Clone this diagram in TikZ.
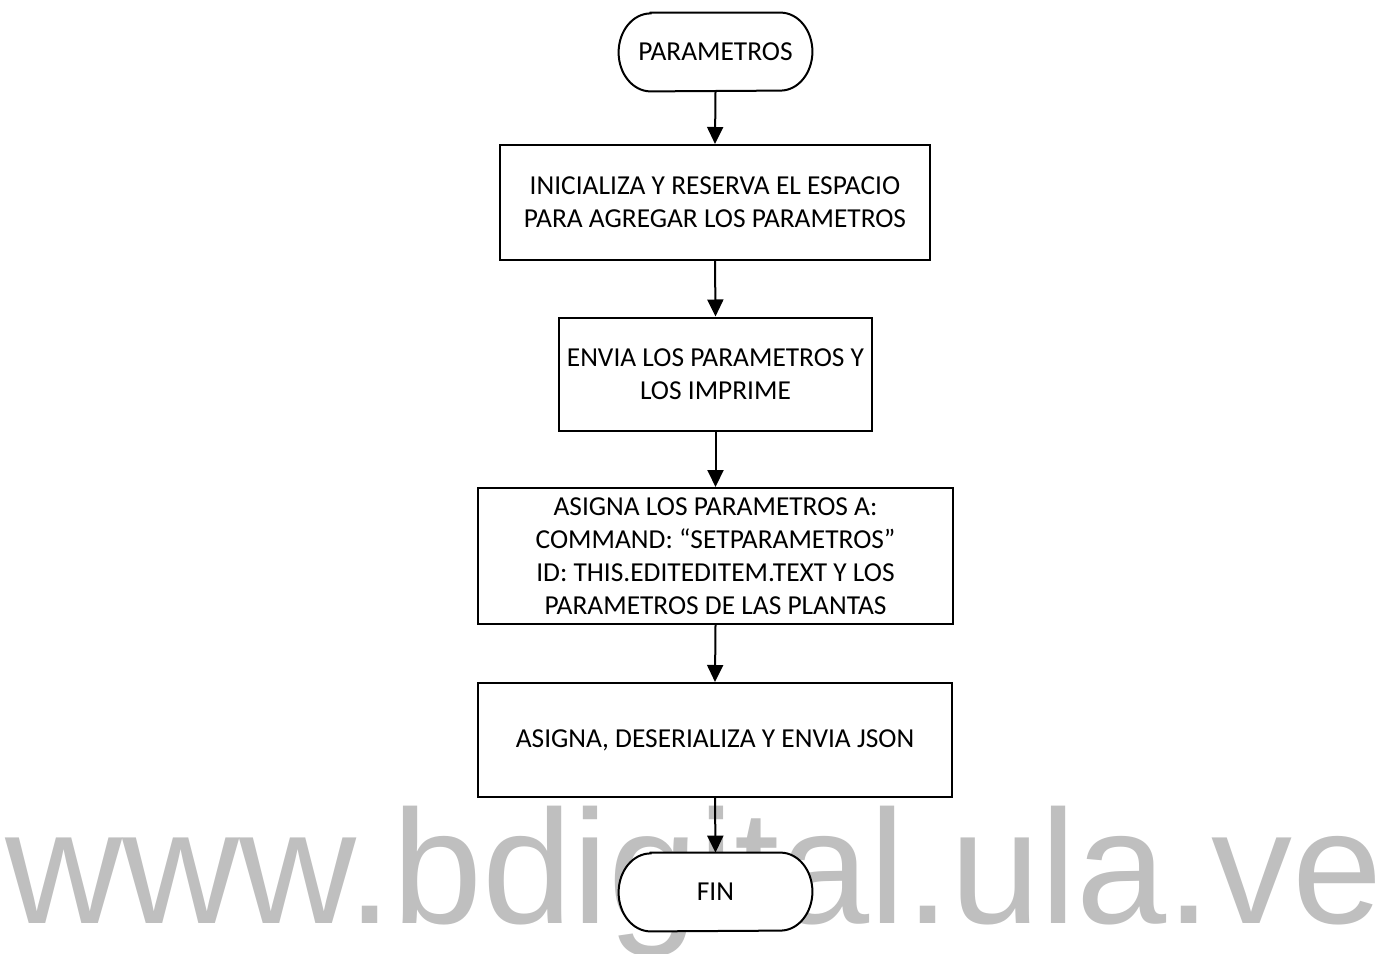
\documentclass[tikz,border=0pt]{standalone}
\usepackage{fontspec}
\setmainfont{Carlito}
\newfontfamily\wmfont{Liberation Sans}
\usetikzlibrary{arrows.meta,calc}
\pgfdeclarelayer{watermark}
\pgfdeclarelayer{background}
\pgfsetlayers{watermark,background,main}
\tikzset{
  boxfont/.style={font=\fontsize{13.7}{16.5}\selectfont},
  stepbox/.style={boxfont, draw, line width=1pt, fill=white, align=center, inner sep=0pt},
  termtext/.style={boxfont, align=center, inner sep=0pt, minimum width=96.5pt, minimum height=39pt},
  termline/.style={draw, line width=1pt, fill=white},
  flow/.style={-{Triangle[length=8.5pt,width=8pt]}, line width=1pt},
  wm/.style={text=black!25, font=\wmfont\fontsize{81}{81}\selectfont, inner sep=0pt, anchor=base west}
}
% stadium outline with elliptical ends around a terminal node
\newcommand{\stadium}[1]{%
  \begin{pgfonlayer}{background}
    \path[termline] ($(#1.north west)+(32,0)$) -- ($(#1.north east)+(-32,0)$)
      arc[start angle=90,end angle=-90,x radius=16pt,y radius=19.5pt]
      -- ($(#1.south west)+(32,0)$)
      arc[start angle=270,end angle=90,x radius=16pt,y radius=19.5pt] -- cycle;
  \end{pgfonlayer}}
\begin{document}
\begin{tikzpicture}[x=0.5pt,y=0.5pt]
\useasboundingbox (0,0) rectangle (1380,-953);

% watermark behind everything
\begin{pgfonlayer}{watermark}
  \node[wm] (mark) at (5,-923) {www.bdigital.ula.ve};
\end{pgfonlayer}

% terminals
\node[termtext] (start) at (715.5,-52) {PARAMETROS};
\stadium{start}
\node[termtext] (fin) at (715.5,-892) {FIN};
\stadium{fin}

% process steps
\node[stepbox, minimum width=215pt, minimum height=57.5pt] (b1) at (715,-202.5)
  {INICIALIZA Y RESERVA EL ESPACIO\\PARA AGREGAR LOS PARAMETROS};
\node[stepbox, minimum width=156.5pt, minimum height=56.5pt] (b2) at (715.5,-374)
  {ENVIA LOS PARAMETROS Y\\LOS IMPRIME};
\node[stepbox, minimum width=237.5pt, minimum height=68pt] (b3) at (715.5,-556)
  {ASIGNA LOS PARAMETROS A:\\COMMAND: “SETPARAMETROS”\\ID: THIS.EDITEDITEM.TEXT Y LOS\\PARAMETROS DE LAS PLANTAS};
\node[stepbox, minimum width=237pt, minimum height=57pt] (b4) at (715,-740)
  {ASIGNA, DESERIALIZA Y ENVIA JSON};

% connectors
\draw[flow] (start.south) -- (b1.north);
\draw[flow] (b1.south) -- (b2.north);
\draw[flow] (b2.south) -- (b3.north);
\draw[flow] (b3.south) -- (b4.north);
\draw[flow] (b4.south) -- (fin.north);
\end{tikzpicture}
\end{document}
